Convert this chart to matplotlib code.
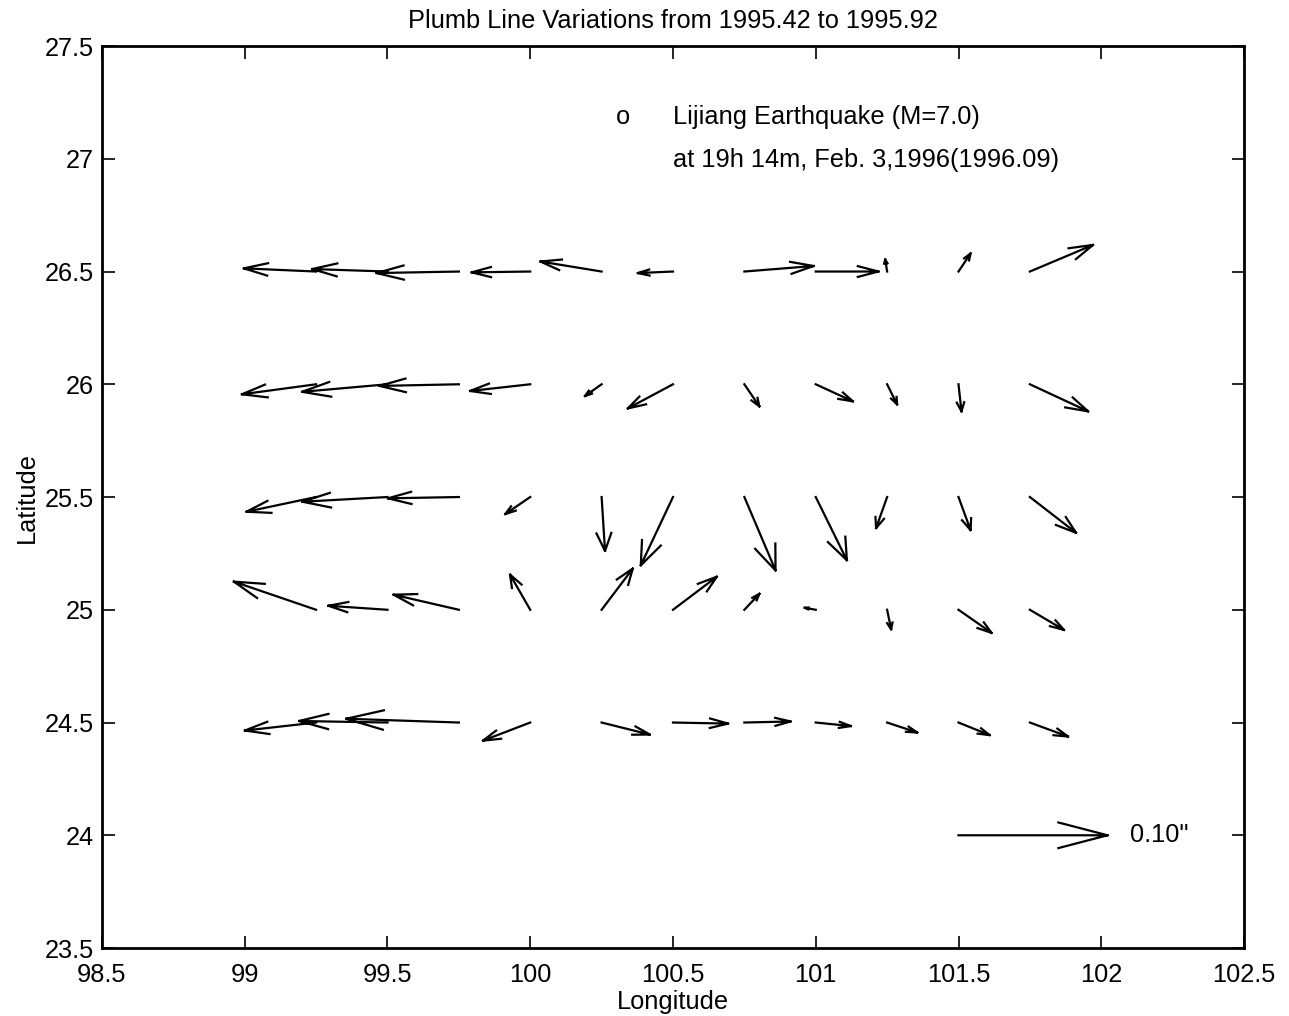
import matplotlib
matplotlib.use("Agg")
import matplotlib.pyplot as plt
import numpy as np
from matplotlib.ticker import FuncFormatter, MultipleLocator

plt.rcParams["font.family"] = ["Liberation Sans", "DejaVu Sans"]

# grid of stations (tail of every arrow)
lon = [99.25, 99.5, 99.75, 100.0, 100.25, 100.5, 100.75, 101.0, 101.25, 101.5, 101.75]
lat = [26.5, 26.0, 25.5, 25.0, 24.5]

# plumb line variation components (arcsec), east and north, one list per latitude row
u_265 = [-0.0485, -0.0505, -0.0552, -0.0393, -0.0411, -0.0236, 0.0465, 0.0421, -0.0013, 0.0081, 0.0424]
v_265 = [0.0027, 0.0021, -0.0013, -0.0007, 0.0085, -0.0013, 0.0047, 0.0000, 0.0102, 0.0154, 0.0226]
u_260 = [-0.0498, -0.0573, -0.0532, -0.0404, -0.0112, -0.0303, 0.0101, 0.0249, 0.0067, 0.0020, 0.0391]
v_260 = [-0.0085, -0.0064, -0.0014, -0.0057, -0.0100, -0.0205, -0.0188, -0.0145, -0.0171, -0.0230, -0.0230]
u_255 = [-0.0467, -0.0571, -0.0476, -0.0168, 0.0023, -0.0216, 0.0209, 0.0209, -0.0074, 0.0081, 0.0310]
v_255 = [-0.0125, -0.0040, -0.0011, -0.0145, -0.0458, -0.0580, -0.0623, -0.0537, -0.0264, -0.0281, -0.0304]
u_250 = [-0.0552, -0.0397, -0.0438, -0.0135, 0.0209, 0.0294, 0.0101, -0.0074, 0.0027, 0.0222, 0.0229]
v_250 = [0.0239, 0.0034, 0.0128, 0.0298, 0.0350, 0.0281, 0.0136, 0.0017, -0.0166, -0.0196, -0.0171]
u_245 = [-0.0478, -0.0593, -0.0756, -0.0317, 0.0323, 0.0370, 0.0310, 0.0236, 0.0202, 0.0209, 0.0256]
v_245 = [-0.0068, 0.0013, 0.0032, -0.0154, -0.0102, -0.0009, 0.0009, -0.0030, -0.0085, -0.0107, -0.0119]

# reference arrow
ref_u = 0.10
ref_pos = (101.5, 24.0)

SCALE = 5.22          # degrees per arcsec on the map
ALPHA, BETA = 0.33, 0.33


def arrow_paths(x, y, u, v):
    """Shaft + open head polylines, MATLAB quiver style."""
    xs, ys = [], []
    for x0, y0, du, dv in zip(x, y, u, v):
        du *= SCALE
        dv *= SCALE
        xt, yt = x0 + du, y0 + dv
        xs += [x0, xt, np.nan]
        ys += [y0, yt, np.nan]
        xs += [xt - ALPHA * (du + BETA * dv), xt, xt - ALPHA * (du - BETA * dv), np.nan]
        ys += [yt - ALPHA * (dv - BETA * du), yt, yt - ALPHA * (dv + BETA * du), np.nan]
    return xs, ys


U = [u_265, u_260, u_255, u_250, u_245]
V = [v_265, v_260, v_255, v_250, v_245]
X, Y, UU, VV = [], [], [], []
for la, ur, vr in zip(lat, U, V):
    X += lon
    Y += [la] * len(lon)
    UU += ur
    VV += vr

fig = plt.figure(figsize=(12.89, 10.16), dpi=100)
ax = fig.add_axes([0.0791, 0.0669, 0.886, 0.8878])

xs, ys = arrow_paths(X, Y, UU, VV)
ax.plot(xs, ys, color="black", linewidth=1.6)
xs, ys = arrow_paths([ref_pos[0]], [ref_pos[1]], [ref_u], [0.0])
ax.plot(xs, ys, color="black", linewidth=1.6)

fs = 18.3
ax.text(102.1, 24.0, f"{ref_u:.2f}\"", fontsize=fs, va="center", ha="left")
ax.text(100.325, 27.185, "o", fontsize=fs, va="center", ha="center")
ax.text(100.5, 27.185, "Lijiang Earthquake (M=7.0)", fontsize=fs, va="center", ha="left")
ax.text(100.5, 26.995, "at 19h 14m, Feb. 3,1996(1996.09)", fontsize=fs, va="center", ha="left")

ax.set_xlim(98.5, 102.5)
ax.set_ylim(23.5, 27.5)
ax.xaxis.set_major_locator(MultipleLocator(0.5))
ax.yaxis.set_major_locator(MultipleLocator(0.5))
fmt = FuncFormatter(lambda val, pos: f"{val:g}")
ax.xaxis.set_major_formatter(fmt)
ax.yaxis.set_major_formatter(fmt)
ax.tick_params(direction="in", length=9, width=1.2, top=True, right=True,
               labelsize=fs)
ax.tick_params(axis="x", pad=11)
ax.tick_params(axis="y", pad=6)
for side in ("top", "right", "left", "bottom"):
    ax.spines[side].set_linewidth(2.0)

ax.set_xlabel("Longitude", fontsize=fs, labelpad=2)
ax.set_ylabel("Latitude", fontsize=fs, labelpad=4)
ax.set_title("Plumb Line Variations from 1995.42 to 1995.92", fontsize=fs, pad=13)

fig.savefig("out.png", dpi=100)
